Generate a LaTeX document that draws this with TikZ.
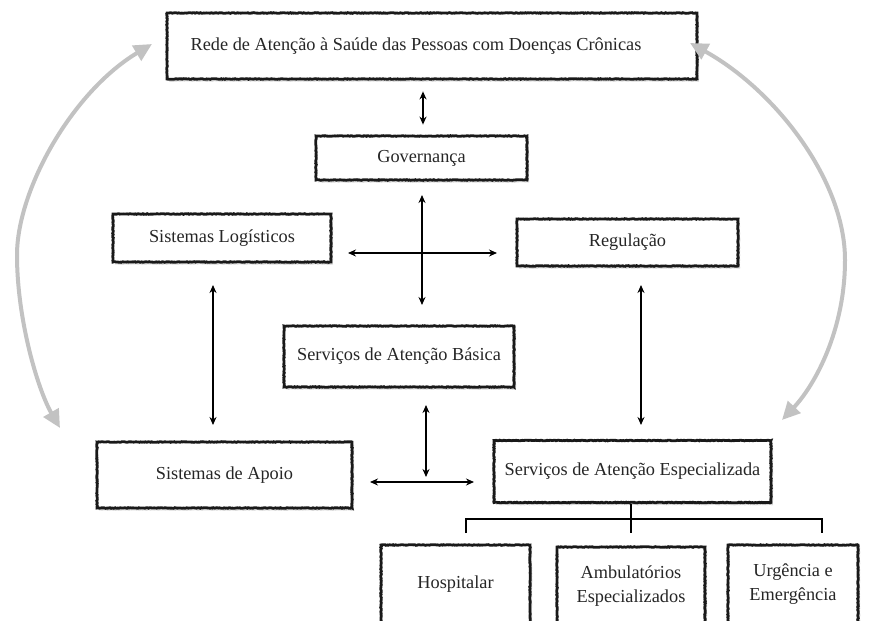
\documentclass[tikz,border=0pt]{standalone}
\usepackage{fontspec}
\setmainfont{Liberation Serif}
\usetikzlibrary{arrows.meta,shadows,decorations.pathmorphing}

\tikzset{
  box/.style={draw=black!90, line width=2.8pt, fill=white, inner sep=0pt,
    align=center, text=black!85, font=\fontsize{18.3}{24}\selectfont,
    decorate, decoration={random steps, segment length=1.2pt, amplitude=0.35pt},
    drop shadow={shadow xshift=2pt, shadow yshift=-2.5pt, opacity=0.25, fill=black!60}},
  link/.style={line width=1.4pt, {Stealth[length=8pt,width=7pt]}-{Stealth[length=8pt,width=7pt]}},
  plainline/.style={line width=1.4pt},
  loop/.style={line width=4pt, draw=black!24,
    {Triangle[length=18pt,width=17pt]}-{Triangle[length=18pt,width=17pt]}}
}

\begin{document}
\begin{tikzpicture}[x=1pt,y=-1pt]
  \useasboundingbox (0,0) rectangle (871,621);
  \clip (0,0) rectangle (871,621);

  % boxes
  \node[box, minimum width=530pt, minimum height=66pt] (rede) at (432,46)
    {Rede de Atenção à Saúde das Pessoas com Doenças Crônicas\hspace*{32pt}};
  \node[box, minimum width=211pt, minimum height=44pt] (gov) at (421.5,158) {Governança};
  \node[box, minimum width=218pt, minimum height=48pt] (log) at (222,238) {Sistemas Logísticos};
  \node[box, minimum width=221pt, minimum height=47pt] (reg) at (627.5,242.5) {Regulação};
  \node[box, minimum width=230pt, minimum height=61pt] (bas) at (399,356.5) {Serviços de Atenção Básica};
  \node[box, minimum width=255pt, minimum height=66pt] (apo) at (224.5,475) {Sistemas de Apoio};
  \node[box, minimum width=277pt, minimum height=62pt] (esp) at (632.5,471.5) {Serviços de Atenção Especializada};
  \node[box, minimum width=149pt, minimum height=78pt] (hos) at (455.5,584) {Hospitalar};
  \node[box, minimum width=148pt, minimum height=78pt] (amb) at (631,586) {Ambulatórios\\Especializados};
  \node[box, minimum width=130pt, minimum height=78pt] (urg) at (793,584) {Urgência e\\Emergência};

  % connector end points
  \coordinate (crossN) at (422,195);
  \coordinate (crossS) at (422,305);
  \coordinate (crossW) at (348,253);
  \coordinate (crossE) at (497,253);
  \coordinate (leftN) at (213,285);
  \coordinate (leftS) at (213,425);
  \coordinate (rightN) at (641,285);
  \coordinate (rightS) at (641,425);
  \coordinate (lowN) at (426,405);
  \coordinate (lowS) at (426,477);
  \coordinate (lowW) at (370,482);
  \coordinate (lowE) at (474,482);
  \coordinate (branch) at (631,519);
  \coordinate (branchW) at (466,519);
  \coordinate (branchE) at (822,519);

  % black connectors
  \draw[link] ([yshift=-11pt]rede.south -| 423,0) -- ([yshift=10pt]gov.north -| 423,0);
  \draw[link] (crossN) -- (crossS);
  \draw[link] (crossW) -- (crossE);
  \draw[link] (leftN) -- (leftS);
  \draw[link] (rightN) -- (rightS);
  \draw[link] (lowN) -- (lowS);
  \draw[link] (lowW) -- (lowE);

  % branches below the specialised services
  \draw[plainline] (esp.south -| branch) -- (branch);
  \draw[plainline] (branchW |- 0,533) -- (branchW) -- (branchE) -- (branchE |- 0,533);
  \draw[plainline] (branch) -- (631,533);

  % grey loops at the sides
  \draw[loop] (152,44) .. controls (72,92) and (17,190) .. (17,255)
              .. controls (17,320) and (38,390) .. (60,428);
  \draw[loop] (690,43) .. controls (775,90) and (845,180) .. (845,260)
              .. controls (845,330) and (815,385) .. (782,420);
\end{tikzpicture}
\end{document}
